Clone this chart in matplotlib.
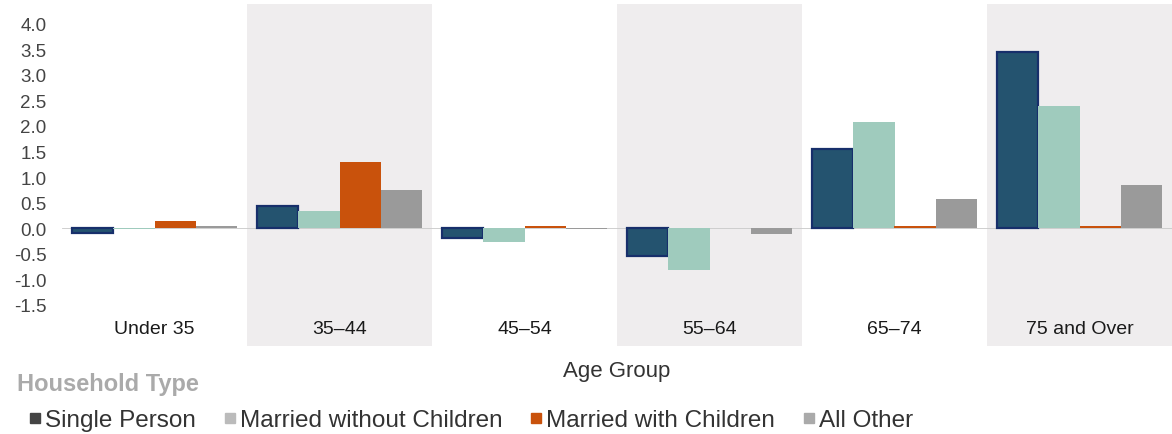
import numpy as np
import matplotlib.pyplot as plt
from matplotlib.lines import Line2D

plt.rcParams['font.family'] = ['Liberation Sans', 'DejaVu Sans']

# Change in households (millions) by age group and household type
age_groups = ["Under 35", "35\u201344", "45\u201354", "55\u201364", "65\u201374", "75 and Over"]
single_person = [-0.10, 0.43, -0.20, -0.55, 1.55, 3.45]
married_no_kids = [-0.01, 0.33, -0.27, -0.82, 2.08, 2.39]
married_kids = [0.13, 1.29, 0.05, 0.00, 0.05, 0.04]
all_other = [0.05, 0.74, -0.01, -0.12, 0.57, 0.84]

series = [
    ("Single Person", single_person, "#24536f", "#172f6b", "#444444"),
    ("Married without Children", married_no_kids, "#9fcbbd", "#93c0b2", "#bbbbbb"),
    ("Married with Children", married_kids, "#c9520c", "#c9520c", "#c9520c"),
    ("All Other", all_other, "#9a9a9a", "#9a9a9a", "#aaaaaa"),
]

fig = plt.figure(figsize=(11.72, 4.35), dpi=100)
ax = fig.add_axes([62 / 1172, 1 - 347 / 435, 1110 / 1172, 342 / 435])

x = np.arange(len(age_groups))
width = 0.222

# alternating shaded bands behind every other age group
for i in range(1, len(age_groups), 2):
    ax.axvspan(i - 0.5, i + 0.5, color="#efedee", zorder=0, lw=0)

for k, (name, vals, color, edge, _) in enumerate(series):
    ax.bar(x + (k - 1.5) * width, vals, width, color=color, edgecolor=edge,
           linewidth=1.6 if k == 0 else 0, zorder=2)

ax.axhline(0, color="#c8c8c8", lw=0.6, zorder=1)

ax.set_xlim(-0.5, len(age_groups) - 0.5)
ax.set_ylim(-2.31, 4.39)
ticks = np.arange(-1.5, 4.01, 0.5)
ax.set_yticks(ticks)
ax.set_yticklabels([f"{v:.1f}" for v in ticks])
ax.set_xticks(x)
ax.set_xticklabels(age_groups)
ax.tick_params(axis="x", length=0, pad=-19, labelsize=14, labelcolor="#1a1a1a")
ax.tick_params(axis="y", length=0, pad=11, labelsize=13.5, labelcolor="#444444")
for s in ax.spines.values():
    s.set_visible(False)

fig.text(617 / 1172, 1 - 372 / 435, "Age Group", ha="center", va="center",
         fontsize=16, color="#333333")

# legend title sits a little left of the entries
fig.text(17 / 1172, 1 - 385 / 435, "Household Type", ha="left", va="center",
         fontsize=17, color="#aaaaaa", fontweight="bold")

handles = [Line2D([], [], marker="s", ls="", markersize=7, color=c)
           for (_, _, _, _, c) in series]
leg = fig.legend(handles, [s[0] for s in series],
                 loc="center left", bbox_to_anchor=(28 / 1172, 1 - 421 / 435), ncol=4,
                 frameon=False, fontsize=17.5, handletextpad=0.1, columnspacing=1.1,
                 handlelength=0.6, labelcolor="#333333",
                 borderaxespad=0.0, borderpad=0.0)

fig.savefig("out.png", dpi=100)
